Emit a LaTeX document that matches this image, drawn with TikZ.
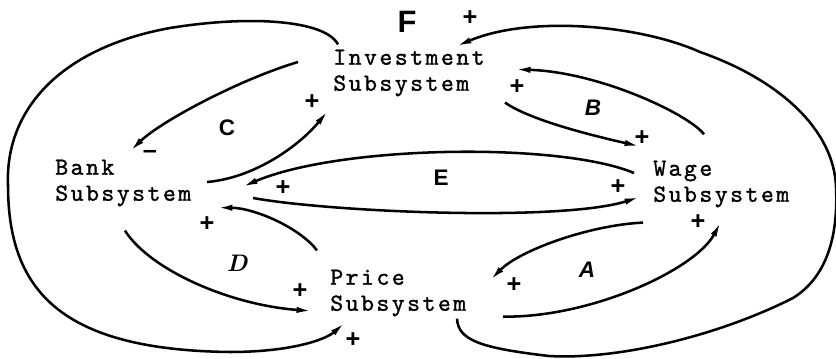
\documentclass[tikz,border=0pt]{standalone}
\usepackage{fontspec}
\usepackage{tikz}
\usetikzlibrary{arrows.meta}
\newfontfamily\boxfont{lmmono10-regular}[Extension=.otf,LetterSpace=10,FakeBold=1.2]
\newfontfamily\handfont{Liberation Sans}

\tikzset{
  subsys/.style={inner sep=0pt,anchor=west,align=left,font=\boxfont\fontsize{17.5}{18.5}\selectfont},
  causal/.style={line width=1.8pt,-{Latex[length=11pt,width=4.5pt]}},
  polarity/.style={inner sep=0pt,font=\handfont\bfseries\fontsize{18}{18}\selectfont},
  looplabel/.style={inner sep=0pt,font=\handfont\bfseries\fontsize{16}{16}\selectfont},
}

\begin{document}
\begin{tikzpicture}[x=0.025cm,y=-0.025cm]
  \useasboundingbox (0,0) rectangle (836,359);

  % subsystems
  \node[subsys] (inv) at (333,73) {Investment\\Subsystem};
  \node[subsys] (bank) at (55,183) {Bank\\Subsystem};
  \node[subsys] (wage) at (653,184) {Wage\\Subsystem};
  \node[subsys] (price) at (330,293) {Price\\Subsystem};

  % loop C
  \draw[causal] ([shift={(-35,-11)}]inv.west) .. controls (238,80) and (160,122) .. ([shift={(75,-8)}]bank.north west);
  \draw[causal] ([shift={(152,-1)}]bank.west) .. controls (255,178) and (300,145) .. ([shift={(-5,14)}]inv.south west);
  % loop E
  \draw[causal] ([shift={(-19,-11)}]wage.west) .. controls (560,142) and (340,145) .. ([shift={(187,4)}]bank.west);
  \draw[causal] ([shift={(198,15)}]bank.west) .. controls (330,212) and (560,222) .. ([shift={(-13,13)}]wage.west);
  % loop B
  \draw[causal] ([shift={(51,-26)}]wage.north west) .. controls (690,115) and (600,72) .. ([shift={(182,20)}]inv.north west);
  \draw[causal] ([shift={(172,6)}]inv.south west) .. controls (530,120) and (590,135) .. ([shift={(-13,-14)}]wage.north west);
  % loop D
  \draw[causal] ([shift={(-13,-19)}]price.north west) .. controls (300,228) and (255,208) .. ([shift={(162,1)}]bank.south west);
  \draw[causal] ([shift={(70,24)}]bank.south west) .. controls (150,270) and (230,305) .. ([shift={(-18,18)}]price.west);
  % loop A
  \draw[causal] ([shift={(-10,15)}]wage.south west) .. controls (590,225) and (520,250) .. ([shift={(160,11)}]price.north west);
  \draw[causal] ([shift={(173,0)}]price.south west) .. controls (590,318) and (695,270) .. ([shift={(68,14)}]wage.south west);
  % loop F, outer
  \draw[causal] ([shift={(5,-5)}]inv.north west) .. controls (325,20) and (250,15) .. (170,28)
    .. controls (60,48) and (5,110) .. (8,185)
    .. controls (8,290) and (60,350) .. (230,352)
    .. controls (290,352) and (325,340) .. ([shift={(15,6)}]price.south west);
  \draw[causal] ([shift={(127,2)}]price.south west) .. controls (458,340) and (480,348) .. (549,356)
    .. controls (620,360) and (720,335) .. (793,298)
    .. controls (830,275) and (838,230) .. (836,187)
    .. controls (834,130) and (780,80) .. (700,52)
    .. controls (640,25) and (530,15) .. ([shift={(123,-3)}]inv.north west);

  % signs
  \node[polarity] (mC1) at (150,154) {–};
  \node[polarity] (pC2) at (312,102) {+};
  \node[polarity] (pB1) at (517,87) {+};
  \node[polarity] (pB2) at (642,138) {+};
  \node[polarity] (pE1) at (283,188) {+};
  \node[polarity] (pE2) at (618,187) {+};
  \node[polarity] (pD1) at (207,224) {+};
  \node[polarity] (pD2) at (300,291) {+};
  \node[polarity] (pA1) at (514,285) {+};
  \node[polarity] (pA2) at (698,222) {+};
  \node[polarity] (pF1) at (353,340) {+};
  \node[polarity] (pF2) at (470,18) {+};

  % loop names
  \node[looplabel] (loopC) at (227,128) {C};
  \node[looplabel] (loopB) at (593,108) {\itshape B};
  \node[looplabel] (loopE) at (441,178) {E};
  \node[looplabel] (loopA) at (587,270) {\itshape A};
  \node[looplabel,font=\bfseries\itshape\fontsize{17}{17}\selectfont] (loopD) at (237,263) {D};
  \node[looplabel,font=\handfont\bfseries\fontsize{22}{22}\selectfont] (loopF) at (407,22) {F};
\end{tikzpicture}
\end{document}
